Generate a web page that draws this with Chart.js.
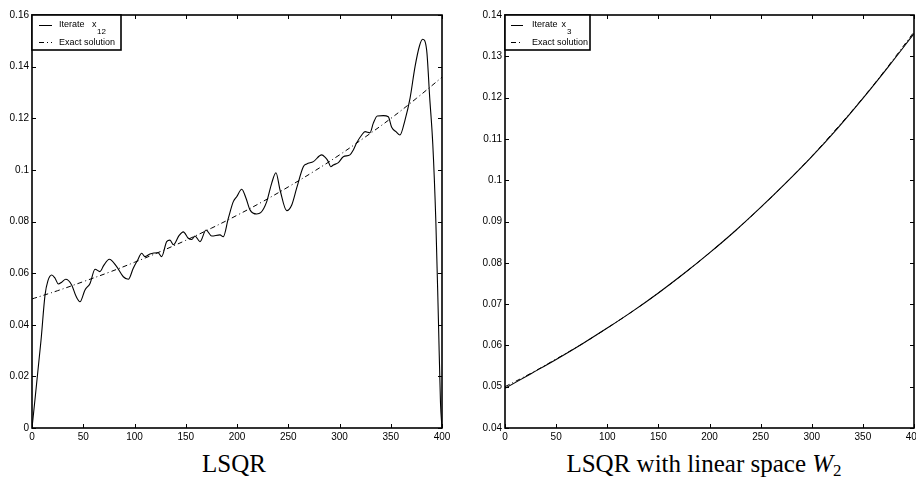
<!DOCTYPE html>
<html>
<head>
<meta charset="utf-8">
<script src="https://cdn.jsdelivr.net/npm/chart.js@4.4.1/dist/chart.umd.min.js"></script>
<style>
  html, body { margin: 0; padding: 0; background: #fff; }
  body { width: 916px; height: 482px; position: relative; overflow: hidden; }
  .wrap { position: absolute; top: 0; }
  .title { position: absolute; top: 450px; font-family: "Liberation Serif", "DejaVu Serif", serif; font-size: 25px; color: #000; white-space: nowrap; transform: translateX(-50%); }
  .title sub { font-size: 17px; vertical-align: -4px; line-height: 0; }
</style>
</head>
<body>
<div class="wrap" style="left:0px;"><canvas id="c1" width="460" height="445"></canvas></div>
<div class="wrap" style="left:460px;"><canvas id="c2" width="456" height="445"></canvas></div>
<div class="title" style="left:234px;">LSQR</div>
<div class="title" style="left:704px;">LSQR with linear space <i>W</i><sub>2</sub></div>
<script>
// ---------- data ----------
const xTicks = [0, 50, 100, 150, 200, 250, 300, 350, 400];
const leftYTicks = [0, 0.02, 0.04, 0.06, 0.08, 0.1, 0.12, 0.14, 0.16];
const rightYTicks = [0.04, 0.05, 0.06, 0.07, 0.08, 0.09, 0.1, 0.11, 0.12, 0.13, 0.14];

// LSQR iterate x_12 (left panel)
const iterX12_x = [0, 8.8, 12.7, 15.5, 19.2, 22.5, 25.7, 29, 32.9, 38.7, 43, 46.8, 51.7, 56.6, 61.5, 66.3, 70, 75.4, 82.6, 89.1, 94, 98.8, 103, 107, 110.2, 115, 123, 126.5, 131.4, 134.6, 138, 143.4, 147.6, 152.5, 155.8, 159, 163.9, 169.8, 175.3, 183.4, 186.6, 191.5, 196.4, 199.7, 204.6, 208.8, 212.7, 219.2, 223.1, 229, 233.8, 238, 242, 248.5, 253.4, 258.2, 264.7, 268, 274.5, 282.6, 285.9, 289.1, 291.4, 294, 298.9, 303.7, 310.2, 313.5, 316.8, 321.7, 324.9, 329.8, 333, 336.9, 342.8, 347.6, 350.9, 355.1, 359, 363.9, 368.8, 373.7, 378, 381.1, 385, 388, 391, 394, 396.5, 398.5, 400];
const iterX12_y = [0, 0.034, 0.0515, 0.057, 0.0593, 0.058, 0.0558, 0.0565, 0.0576, 0.0554, 0.051, 0.0489, 0.0535, 0.056, 0.0615, 0.0606, 0.063, 0.0654, 0.0625, 0.0586, 0.0576, 0.0619, 0.065, 0.0677, 0.0664, 0.0674, 0.0679, 0.0664, 0.0722, 0.0728, 0.071, 0.0745, 0.076, 0.0735, 0.073, 0.0744, 0.0722, 0.0767, 0.0744, 0.0748, 0.0741, 0.0812, 0.0877, 0.0896, 0.0925, 0.089, 0.0845, 0.0829, 0.0834, 0.0877, 0.0948, 0.0989, 0.0922, 0.0842, 0.0864, 0.0929, 0.1012, 0.1023, 0.1032, 0.1058, 0.1049, 0.1032, 0.1012, 0.1019, 0.1028, 0.1051, 0.1058, 0.1077, 0.1105, 0.1135, 0.1148, 0.1144, 0.1181, 0.1209, 0.121, 0.1206, 0.1165, 0.1148, 0.1135, 0.1193, 0.1277, 0.14, 0.148, 0.1506, 0.1465, 0.128, 0.11, 0.08, 0.042, 0.01, 0];

// exact solution (both panels)
const exact_x = [0, 25, 50, 75, 100, 125, 150, 175, 200, 225, 250, 275, 300, 325, 350, 375, 400];
const exact_y = [0.0500, 0.0532, 0.0567, 0.0603, 0.0642, 0.0683, 0.0727, 0.0774, 0.0824, 0.0877, 0.0934, 0.0994, 0.1058, 0.1127, 0.1199, 0.1277, 0.1359];

// LSQR iterate x_3 in W_2 (right panel)
const iterX3_x = [0, 25, 50, 75, 100, 125, 150, 175, 200, 225, 250, 275, 300, 325, 350, 375, 400];
const iterX3_y = [0.0496, 0.0531, 0.0566, 0.0603, 0.0642, 0.0683, 0.0727, 0.0774, 0.0824, 0.0877, 0.0934, 0.0994, 0.1057, 0.1125, 0.1198, 0.1275, 0.1355];

// ---------- helpers ----------
const pts = (xs, ys) => xs.map((x, i) => ({ x: x, y: ys[i] }));
const fmt = v => String(+(+v).toFixed(4));
const DASHDOT = [5, 3, 1, 3];
const tickFont = { family: "Liberation Sans, Arial, sans-serif", size: 10 };

function framePlugin(legendCfg) {
  return {
    id: 'frame',
    afterDraw(chart) {
      const ctx = chart.ctx, a = chart.chartArea;
      const sx = chart.scales.x, sy = chart.scales.y;
      ctx.save();
      ctx.strokeStyle = '#000';
      ctx.lineWidth = 1;
      const TL = 4;
      ctx.beginPath();
      sx.ticks.forEach(t => {
        const p = Math.round(sx.getPixelForValue(t.value)) + 0.5;
        ctx.moveTo(p, a.bottom); ctx.lineTo(p, a.bottom - TL);
        ctx.moveTo(p, a.top); ctx.lineTo(p, a.top + TL);
      });
      sy.ticks.forEach(t => {
        const p = Math.round(sy.getPixelForValue(t.value)) + 0.5;
        ctx.moveTo(a.left, p); ctx.lineTo(a.left + TL, p);
        ctx.moveTo(a.right, p); ctx.lineTo(a.right - TL, p);
      });
      ctx.stroke();
      ctx.lineWidth = 1.6;
      ctx.strokeRect(a.left, a.top, a.right - a.left, a.bottom - a.top);

      // legend box
      const L = legendCfg;
      const bx = a.left, by = a.top;
      ctx.fillStyle = '#fff';
      ctx.fillRect(bx, by, L.w, L.h);
      ctx.lineWidth = 1.6;
      ctx.strokeRect(bx, by, L.w, L.h);
      ctx.lineWidth = 1;
      ctx.beginPath();
      ctx.moveTo(bx + L.l0, by + 10.5); ctx.lineTo(bx + L.l1, by + 10.5);
      ctx.stroke();
      ctx.setLineDash(DASHDOT);
      ctx.beginPath();
      ctx.moveTo(bx + L.l0, by + 27.5); ctx.lineTo(bx + L.l1, by + 27.5);
      ctx.stroke();
      ctx.setLineDash([]);
      ctx.fillStyle = '#000';
      ctx.font = '9px "Liberation Sans", Arial, sans-serif';
      ctx.textBaseline = 'middle';
      ctx.textAlign = 'left';
      ctx.fillText('Iterate', bx + L.t, by + 10);
      ctx.fillText('x', bx + L.xs, by + 10);
      ctx.font = '8px "Liberation Sans", Arial, sans-serif';
      ctx.fillText(L.sub, bx + L.ss, by + 16.5);
      ctx.font = '9px "Liberation Sans", Arial, sans-serif';
      ctx.fillText('Exact solution', bx + L.t, by + 28);
      ctx.restore();
    }
  };
}

function makeChart(id, datasets, yMin, yMax, yTicks, yWidth, padRight, legendCfg) {
  return new Chart(document.getElementById(id), {
    type: 'line',
    data: { datasets: datasets },
    options: {
      responsive: false,
      animation: false,
      devicePixelRatio: 1,
      layout: { padding: { top: 15, right: padRight, left: 0, bottom: 0 } },
      plugins: { legend: { display: false }, tooltip: { enabled: false } },
      elements: { point: { radius: 0 } },
      scales: {
        x: {
          type: 'linear', min: 0, max: 400,
          afterBuildTicks: s => { s.ticks = xTicks.map(v => ({ value: v })); },
          ticks: { font: tickFont, color: '#000', padding: 3, maxRotation: 0, autoSkip: false, callback: v => fmt(v) },
          grid: { display: false, drawTicks: false },
          border: { display: false },
          afterFit: s => { s.height = 17; s.paddingLeft = 0; s.paddingRight = 0; }
        },
        y: {
          type: 'linear', min: yMin, max: yMax,
          afterBuildTicks: s => { s.ticks = yTicks.map(v => ({ value: v })); },
          ticks: { font: tickFont, color: '#000', padding: 3, autoSkip: false, callback: v => fmt(v) },
          grid: { display: false, drawTicks: false },
          border: { display: false },
          afterFit: s => { s.width = yWidth; s.paddingTop = 0; s.paddingBottom = 0; }
        }
      }
    },
    plugins: [framePlugin(legendCfg)]
  });
}

makeChart('c1', [
  { label: 'Iterate x12', data: pts(iterX12_x, iterX12_y), borderColor: '#000', borderWidth: 1.1, cubicInterpolationMode: 'monotone', fill: false },
  { label: 'Exact solution', data: pts(exact_x, exact_y), borderColor: '#000', borderWidth: 1, borderDash: DASHDOT, tension: 0.4, fill: false }
], 0, 0.16, leftYTicks, 32, 18, { w: 89, h: 35, l0: 7, l1: 20, t: 27, xs: 60, ss: 65, sub: '12' });

makeChart('c2', [
  { label: 'Iterate x3', data: pts(iterX3_x, iterX3_y), borderColor: '#000', borderWidth: 1.1, tension: 0.4, fill: false },
  { label: 'Exact solution', data: pts(exact_x, exact_y), borderColor: '#000', borderWidth: 1, borderDash: DASHDOT, tension: 0.4, fill: false }
], 0.04, 0.14, rightYTicks, 45, 2, { w: 85, h: 35, l0: 6, l1: 18, t: 27, xs: 56.5, ss: 62, sub: '3' });
</script>
</body>
</html>
